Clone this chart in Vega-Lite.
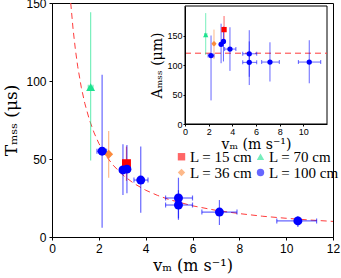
{
  "$schema": "https://vega.github.io/schema/vega-lite/v6.json",
  "width": 281,
  "height": 234,
  "autosize": {"type": "none"},
  "padding": {"left": 52, "top": 3, "right": 8, "bottom": 41},
  "background": "white",
  "config": {
    "view": {"stroke": "black", "strokeWidth": 1},
    "axis": {"grid": false, "domainColor": "black", "tickColor": "black", "labelColor": "black", "titleColor": "black", "labelFont": "Liberation Sans", "titleFont": "DejaVu Serif", "titleFontWeight": "normal", "labelFlush": false, "labelOverlap": false},
    "legend": {"orient": "none", "legendX": 122, "legendY": 146, "columns": 2, "columnPadding": 0, "rowPadding": 0, "labelFont": "Liberation Serif", "labelFontSize": 15, "labelColor": "black", "symbolSize": 55, "labelOffset": 1, "padding": 0, "symbolStrokeWidth": 0}
  },
  "datasets": {
    "curve": [
      {"v": 0.8, "T": 150}, {"v": 0.9, "T": 133.3}, {"v": 1.0, "T": 120}, {"v": 1.1, "T": 109.1},
      {"v": 1.25, "T": 96}, {"v": 1.4, "T": 85.7}, {"v": 1.6, "T": 75}, {"v": 1.8, "T": 66.7},
      {"v": 2.0, "T": 60}, {"v": 2.3, "T": 52.2}, {"v": 2.6, "T": 46.2}, {"v": 3.0, "T": 40},
      {"v": 3.5, "T": 34.3}, {"v": 4.0, "T": 30}, {"v": 4.5, "T": 26.7}, {"v": 5.0, "T": 24},
      {"v": 6.0, "T": 20}, {"v": 7.0, "T": 17.1}, {"v": 8.0, "T": 15}, {"v": 9.0, "T": 13.3},
      {"v": 10.0, "T": 12}, {"v": 11.0, "T": 10.9}, {"v": 12.0, "T": 10}
    ],
    "main": [
      {"L": 70, "v": 1.65, "T": 96, "Tlo": 49, "Thi": 144, "vlo": 1.55, "vhi": 1.75},
      {"L": 36, "v": 2.42, "T": 53, "Tlo": 38, "Thi": 68, "vlo": 2.36, "vhi": 2.48},
      {"L": 15, "v": 3.18, "T": 47, "Tlo": 36, "Thi": 58, "vlo": 3.12, "vhi": 3.24},
      {"L": 100, "v": 2.14, "T": 55, "Tlo": 6, "Thi": 104, "vlo": 1.92, "vhi": 2.33},
      {"L": 100, "v": 3.03, "T": 43, "Tlo": 27, "Thi": 59.5, "vlo": 2.9, "vhi": 3.15},
      {"L": 100, "v": 3.2, "T": 43.5, "Tlo": 28, "Thi": 59, "vlo": 3.08, "vhi": 3.32},
      {"L": 100, "v": 3.79, "T": 36.5, "Tlo": 15.5, "Thi": 58, "vlo": 3.5, "vhi": 4.1},
      {"L": 100, "v": 5.4, "T": 25, "Tlo": 12, "Thi": 38, "vlo": 4.85, "vhi": 6.0},
      {"L": 100, "v": 5.4, "T": 20.5, "Tlo": 11, "Thi": 30, "vlo": 4.85, "vhi": 6.0},
      {"L": 100, "v": 7.15, "T": 16, "Tlo": 7.7, "Thi": 23.7, "vlo": 6.4, "vhi": 7.9},
      {"L": 100, "v": 10.5, "T": 10.3, "Tlo": 6.4, "Thi": 13.5, "vlo": 9.6, "vhi": 11.3}
    ],
    "frame": [{"x0": 0, "x1": 12, "y0": 0, "y1": 200}],
    "hline": [{"x0": 0, "x1": 12, "A": 120}],
    "inset": [
      {"L": 70, "v": 1.75, "A": 151, "Alo": 117, "Ahi": 188, "vlo": 1.65, "vhi": 1.85},
      {"L": 36, "v": 2.45, "A": 136, "Alo": 110, "Ahi": 160, "vlo": 2.38, "vhi": 2.52},
      {"L": 15, "v": 3.3, "A": 160, "Alo": 138, "Ahi": 183, "vlo": 3.24, "vhi": 3.36},
      {"L": 100, "v": 2.2, "A": 116, "Alo": 40, "Ahi": 150, "vlo": 1.95, "vhi": 2.45},
      {"L": 100, "v": 3.05, "A": 135, "Alo": 103, "Ahi": 170, "vlo": 2.95, "vhi": 3.15},
      {"L": 100, "v": 3.25, "A": 140, "Alo": 106, "Ahi": 165, "vlo": 3.15, "vhi": 3.35},
      {"L": 100, "v": 3.8, "A": 127, "Alo": 90, "Ahi": 164, "vlo": 3.35, "vhi": 4.3},
      {"L": 100, "v": 5.43, "A": 119, "Alo": 80, "Ahi": 159, "vlo": 4.88, "vhi": 6.06},
      {"L": 100, "v": 5.43, "A": 104.5, "Alo": 66, "Ahi": 140, "vlo": 4.88, "vhi": 6.06},
      {"L": 100, "v": 7.18, "A": 105, "Alo": 72, "Ahi": 138.5, "vlo": 6.48, "vhi": 7.97},
      {"L": 100, "v": 10.5, "A": 105, "Alo": 69, "Ahi": 142, "vlo": 9.58, "vhi": 11.47}
    ]
  },
  "layer": [
    {
      "layer": [
        {
          "data": {"name": "curve"},
          "mark": {"type": "line", "color": "#ff3b3b", "strokeDash": [6, 4], "strokeWidth": 1, "clip": true},
          "encoding": {
            "x": {"field": "v", "type": "quantitative", "scale": {"domain": [0, 12], "nice": false, "zero": false},
              "axis": {"values": [0, 2, 4, 6, 8, 10, 12], "labelFontSize": 12, "tickSize": 3, "labelPadding": 3, "title": "vₘ (m s⁻¹)", "titleFontSize": 16, "titlePadding": 3}},
            "y": {"field": "T", "type": "quantitative", "scale": {"domain": [0, 150], "nice": false, "zero": false},
              "axis": {"values": [0, 50, 100, 150], "labelFontSize": 12, "tickSize": 3, "labelPadding": 3, "title": "Tₘₛₛ (μs)", "titleFontSize": 17, "titlePadding": 5}}
          }
        },
        {
          "data": {"name": "main"},
          "mark": {"type": "rule", "strokeWidth": 1.2, "opacity": 0.6},
          "encoding": {
            "x": {"field": "v", "type": "quantitative"},
            "y": {"field": "Tlo", "type": "quantitative"},
            "y2": {"field": "Thi"},
            "color": {"field": "L", "type": "nominal", "scale": {"domain": [15, 36, 70, 100], "range": ["#ff0000", "#fb8a3c", "#1de38f", "#0000ff"]}}
          }
        },
        {
          "data": {"name": "main"},
          "mark": {"type": "rule", "strokeWidth": 1.2, "opacity": 0.6},
          "encoding": {
            "x": {"field": "vlo", "type": "quantitative"},
            "x2": {"field": "vhi"},
            "y": {"field": "T", "type": "quantitative"},
            "color": {"field": "L", "type": "nominal", "scale": {"domain": [15, 36, 70, 100], "range": ["#ff0000", "#fb8a3c", "#1de38f", "#0000ff"]}}
          }
        },
        {
          "data": {"name": "main"},
          "mark": {"type": "tick", "orient": "vertical", "size": 5, "thickness": 1.2, "opacity": 0.6},
          "encoding": {
            "x": {"field": "vlo", "type": "quantitative"},
            "y": {"field": "T", "type": "quantitative"},
            "color": {"field": "L", "type": "nominal", "scale": {"domain": [15, 36, 70, 100], "range": ["#ff0000", "#fb8a3c", "#1de38f", "#0000ff"]}}
          }
        },
        {
          "data": {"name": "main"},
          "mark": {"type": "tick", "orient": "vertical", "size": 5, "thickness": 1.2, "opacity": 0.6},
          "encoding": {
            "x": {"field": "vhi", "type": "quantitative"},
            "y": {"field": "T", "type": "quantitative"},
            "color": {"field": "L", "type": "nominal", "scale": {"domain": [15, 36, 70, 100], "range": ["#ff0000", "#fb8a3c", "#1de38f", "#0000ff"]}}
          }
        },
        {
          "data": {"name": "main"},
          "mark": {"type": "point", "filled": true, "opacity": 1, "size": 80},
          "encoding": {
            "x": {"field": "v", "type": "quantitative"},
            "y": {"field": "T", "type": "quantitative"},
            "color": {"field": "L", "type": "nominal", "scale": {"domain": [15, 36, 70, 100], "range": ["#ff0000", "#fb8a3c", "#1de38f", "#0000ff"]},
              "legend": {"title": null, "labelExpr": "'L = ' + datum.label + ' cm'"}},
            "shape": {"field": "L", "type": "nominal", "scale": {"domain": [15, 36, 70, 100], "range": ["square", "diamond", "triangle-up", "circle"]},
              "legend": {"title": null, "labelExpr": "'L = ' + datum.label + ' cm'"}}
          }
        }
      ]
    },
    {
      "layer": [
        {
          "data": {"name": "frame"},
          "mark": {"type": "rect", "fill": "white", "stroke": "black", "strokeWidth": 1},
          "encoding": {
            "x": {"field": "x0", "type": "quantitative", "scale": {"domain": [0, 12], "range": [133, 275], "nice": false, "zero": false},
              "axis": {"orient": "bottom", "offset": -113, "values": [0, 2, 4, 6, 8, 10], "labelFontSize": 9, "tickSize": 2, "labelPadding": 1, "title": "vₘ (m s⁻¹)", "titleFontSize": 14, "titlePadding": 1, "zindex": 1}},
            "x2": {"field": "x1"},
            "y": {"field": "y0", "type": "quantitative", "scale": {"domain": [0, 200], "range": [121, 3], "nice": false, "zero": false},
              "axis": {"orient": "left", "offset": -133, "values": [0, 50, 100, 150], "labelFontSize": 9, "tickSize": 2, "labelPadding": 1, "title": "Aₘₛₛ (μm)", "titleFontSize": 14, "titlePadding": 2, "zindex": 1}},
            "y2": {"field": "y1"}
          }
        },
        {
          "data": {"name": "hline"},
          "mark": {"type": "rule", "color": "#ff3b3b", "strokeDash": [6, 4], "strokeWidth": 1},
          "encoding": {
            "x": {"field": "x0", "type": "quantitative"},
            "x2": {"field": "x1"},
            "y": {"field": "A", "type": "quantitative"}
          }
        },
        {
          "data": {"name": "inset"},
          "mark": {"type": "rule", "strokeWidth": 1, "opacity": 0.6},
          "encoding": {
            "x": {"field": "v", "type": "quantitative"},
            "y": {"field": "Alo", "type": "quantitative"},
            "y2": {"field": "Ahi"},
            "color": {"field": "L", "type": "nominal", "scale": {"domain": [15, 36, 70, 100], "range": ["#ff0000", "#fb8a3c", "#1de38f", "#0000ff"]}}
          }
        },
        {
          "data": {"name": "inset"},
          "mark": {"type": "rule", "strokeWidth": 1, "opacity": 0.6},
          "encoding": {
            "x": {"field": "vlo", "type": "quantitative"},
            "x2": {"field": "vhi"},
            "y": {"field": "A", "type": "quantitative"},
            "color": {"field": "L", "type": "nominal", "scale": {"domain": [15, 36, 70, 100], "range": ["#ff0000", "#fb8a3c", "#1de38f", "#0000ff"]}}
          }
        },
        {
          "data": {"name": "inset"},
          "mark": {"type": "tick", "orient": "vertical", "size": 4, "thickness": 1, "opacity": 0.6},
          "encoding": {
            "x": {"field": "vlo", "type": "quantitative"},
            "y": {"field": "A", "type": "quantitative"},
            "color": {"field": "L", "type": "nominal", "scale": {"domain": [15, 36, 70, 100], "range": ["#ff0000", "#fb8a3c", "#1de38f", "#0000ff"]}}
          }
        },
        {
          "data": {"name": "inset"},
          "mark": {"type": "tick", "orient": "vertical", "size": 4, "thickness": 1, "opacity": 0.6},
          "encoding": {
            "x": {"field": "vhi", "type": "quantitative"},
            "y": {"field": "A", "type": "quantitative"},
            "color": {"field": "L", "type": "nominal", "scale": {"domain": [15, 36, 70, 100], "range": ["#ff0000", "#fb8a3c", "#1de38f", "#0000ff"]}}
          }
        },
        {
          "data": {"name": "inset"},
          "mark": {"type": "point", "filled": true, "opacity": 1, "size": 28},
          "encoding": {
            "x": {"field": "v", "type": "quantitative"},
            "y": {"field": "A", "type": "quantitative"},
            "color": {"field": "L", "type": "nominal", "scale": {"domain": [15, 36, 70, 100], "range": ["#ff0000", "#fb8a3c", "#1de38f", "#0000ff"]}},
            "shape": {"field": "L", "type": "nominal", "scale": {"domain": [15, 36, 70, 100], "range": ["square", "diamond", "triangle-up", "circle"]}}
          }
        }
      ]
    }
  ],
  "resolve": {"scale": {"x": "independent", "y": "independent"}}
}
